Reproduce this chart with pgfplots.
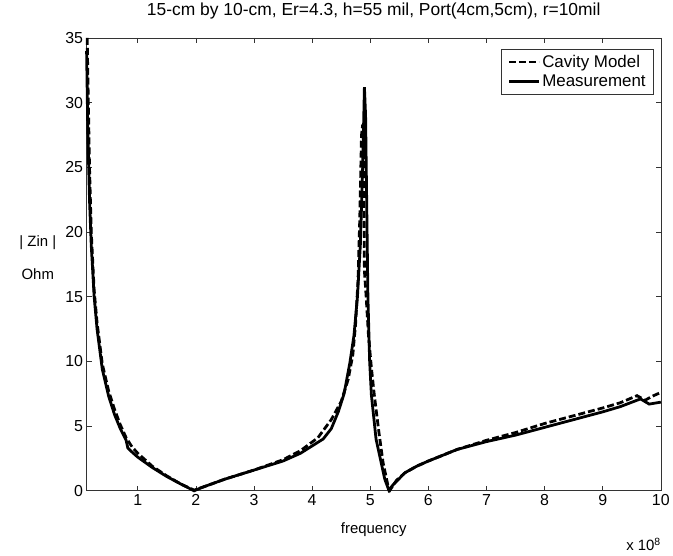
\documentclass[border=0pt]{standalone}
\usepackage{pgfplots}
\pgfplotsset{compat=1.18}
\usepackage{fontspec}
\setmainfont{Liberation Sans}

\begin{document}
\begin{tikzpicture}
\begin{axis}[
    scale only axis,
    width=577bp, height=455bp,
    xmin=0.12, xmax=10,
    ymin=0, ymax=35,
    xtick={1,2,...,10},
    ytick={0,5,...,35},
    tick align=inside,
    major tick length=5bp,
    axis line style={line width=0.6bp, black!80},
    tick style={line width=0.6bp, black!80},
    tick label style={font=\fontsize{16bp}{19bp}\selectfont},
    /pgf/number format/assume math mode=true,
    title={15-cm by 10-cm, Er=4.3, h=55 mil, Port(4cm,5cm), r=10mil},
    title style={font=\fontsize{17.5bp}{20bp}\selectfont, at={(rel axis cs:0.5,1.0)}, anchor=south, yshift=9bp},
    xlabel={frequency},
    xlabel style={font=\fontsize{15bp}{18bp}\selectfont, at={(rel axis cs:0.5,-0.086)}, anchor=center},
    legend style={at={(rel axis cs:0.988,0.976)}, anchor=north east,
        font=\fontsize{17bp}{20bp}\selectfont, draw=black!80, line width=0.6bp,
        inner xsep=6bp, inner ysep=4bp, row sep=2bp},
    legend cell align=left,
    legend image code/.code={\draw[#1] (0bp,0bp) -- (30bp,0bp);},
    clip=false,
]
\addplot[black, line width=2.8bp, dash pattern=on 7bp off 3bp] coordinates {
(0.13,35) (0.15,30) (0.17,25) (0.2,20) (0.25,15.5) (0.3,13) (0.39,9.8)
(0.5,7.7) (0.6,6.3) (0.7,5.1) (0.8,4.1) (0.9,3.4) (1.0,2.9) (1.25,1.9)
(1.5,1.15) (1.75,0.5) (1.97,0.05) (2.1,0.25) (2.5,0.9) (3.0,1.6) (3.5,2.4)
(3.8,3.1) (4.1,4.1) (4.33,5.5) (4.5,6.9) (4.62,8.6) (4.7,10.5) (4.75,13)
(4.79,16.3) (4.82,21) (4.85,27.5) (4.87,28.3) (4.89,24) (4.9,17) (4.93,15)
(4.97,12) (5.02,9.5) (5.07,7.4) (5.15,4.5) (5.22,2.2) (5.3,0.5) (5.34,0.05)
(5.45,0.8) (5.6,1.4) (5.8,1.9) (6.0,2.3) (6.5,3.2) (7.0,3.9) (7.5,4.5)
(8.0,5.2) (8.5,5.8) (9.0,6.4) (9.3,6.8) (9.59,7.35) (9.73,7.0) (9.85,7.3) (10,7.6)
};
\addlegendentry{Cavity Model}
\addplot[black, line width=2.8bp] coordinates {
(0.12,34) (0.14,28) (0.17,22.5) (0.2,19) (0.25,15) (0.3,12.5) (0.39,9.4)
(0.5,7.3) (0.6,5.9) (0.7,4.8) (0.8,3.9) (0.83,3.3) (0.9,3.0) (1.0,2.6)
(1.25,1.8) (1.5,1.1) (1.75,0.5) (1.97,0) (2.1,0.25) (2.5,0.9) (3.0,1.6)
(3.5,2.3) (3.8,2.9) (4.19,4.0) (4.33,4.8) (4.45,6.1) (4.55,7.5) (4.65,9.9)
(4.72,12) (4.78,15) (4.83,19) (4.87,25) (4.9,31.2) (4.92,29) (4.94,22)
(4.96,15) (4.99,10) (5.02,7.4) (5.1,4) (5.25,0.9) (5.32,0.05) (5.4,0.5)
(5.6,1.4) (5.8,1.9) (6.0,2.3) (6.5,3.2) (7.0,3.8) (7.5,4.3) (8.0,4.9)
(8.5,5.5) (9.0,6.1) (9.3,6.5) (9.65,7.1) (9.8,6.7) (10,6.85)
};
\addlegendentry{Measurement}
\node[font=\fontsize{15bp}{18bp}\selectfont] at (rel axis cs:-0.085,0.547) {| Zin |};
\node[font=\fontsize{15bp}{18bp}\selectfont] at (rel axis cs:-0.085,0.479) {Ohm};
\node[font=\fontsize{15bp}{18bp}\selectfont, anchor=east] at (rel axis cs:1.006,-0.118) {x 10$^{\mathrm{8}}$};
\path (rel axis cs:-0.1508,1.0747) rectangle (rel axis cs:1.0156,-0.1429);
\end{axis}
\end{tikzpicture}
\end{document}
